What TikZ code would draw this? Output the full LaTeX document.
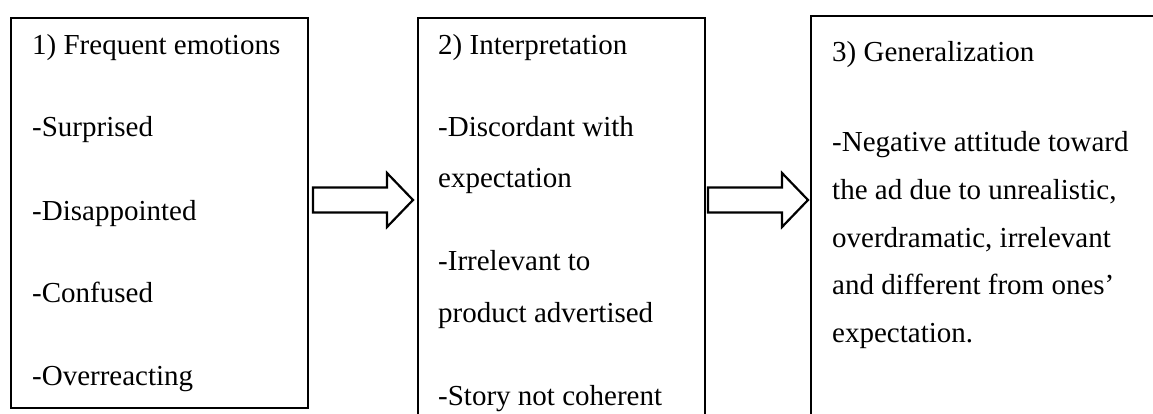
\documentclass[tikz,border=0pt]{standalone}
\usepackage{fontspec}
\setmainfont{Liberation Serif}
\usetikzlibrary{calc}
\begin{document}
\begin{tikzpicture}[x=1pt,y=-1pt,
  box/.style={draw=black, line width=2.2pt, inner sep=0pt, anchor=north west},
  txt/.style={anchor=base west, inner sep=0pt, font=\fontsize{29}{35}\selectfont},
  blockarrow/.style={draw=black, line width=2.2pt, line join=miter, fill=white}]
\useasboundingbox (0,0) rectangle (1153,414);
\clip (0,0) rectangle (1153,414);
\fill[white] (0,0) rectangle (1153,414);
% boxes
\node[box, minimum width=297pt, minimum height=390pt] (b1) at (10,17) {};
\node[box, minimum width=287pt, minimum height=420pt] (b2) at (417,17) {};
\node[box, minimum width=380pt, minimum height=420pt] (b3) at (810,15) {};
% box 1 text
\node[txt] (t11) at (32,55) {1) Frequent emotions};
\node[txt] (t12) at (32,137) {-Surprised};
\node[txt] (t13) at (32,220) {-Disappointed};
\node[txt] (t14) at (32,302) {-Confused};
\node[txt] (t15) at (32,385) {-Overreacting};
% box 2 text
\node[txt] (t21) at (438,55) {2) Interpretation};
\node[txt] (t22) at (438,137) {-Discordant with};
\node[txt] (t23) at (438,188) {expectation};
\node[txt] (t24) at (438,270) {-Irrelevant to};
\node[txt] (t25) at (438,322) {product advertised};
\node[txt] (t26) at (438,405) {-Story not coherent};
% box 3 text
\node[txt] (t31) at (832,62) {3) Generalization};
\node[txt] (t32) at (832,152) {-Negative attitude toward};
\node[txt] (t33) at (832,199.5) {the ad due to unrealistic,};
\node[txt] (t34) at (832,247) {overdramatic, irrelevant};
\node[txt] (t35) at (832,294.5) {and different from ones'};
\node[txt] (t36) at (832,342) {expectation.};
% block arrows
\coordinate (a1s) at (313,200);
\coordinate (a1t) at (413,200);
\draw[blockarrow] ($(a1s)+(0,-12.5)$) -- ($(a1t)+(-26,-12.5)$) -- ($(a1t)+(-26,-27)$) -- (a1t)
  -- ($(a1t)+(-26,27)$) -- ($(a1t)+(-26,12.5)$) -- ($(a1s)+(0,12.5)$) -- cycle;
\coordinate (a2s) at (708,200);
\coordinate (a2t) at (808,200);
\draw[blockarrow] ($(a2s)+(0,-12.5)$) -- ($(a2t)+(-26,-12.5)$) -- ($(a2t)+(-26,-27)$) -- (a2t)
  -- ($(a2t)+(-26,27)$) -- ($(a2t)+(-26,12.5)$) -- ($(a2s)+(0,12.5)$) -- cycle;
\end{tikzpicture}
\end{document}
